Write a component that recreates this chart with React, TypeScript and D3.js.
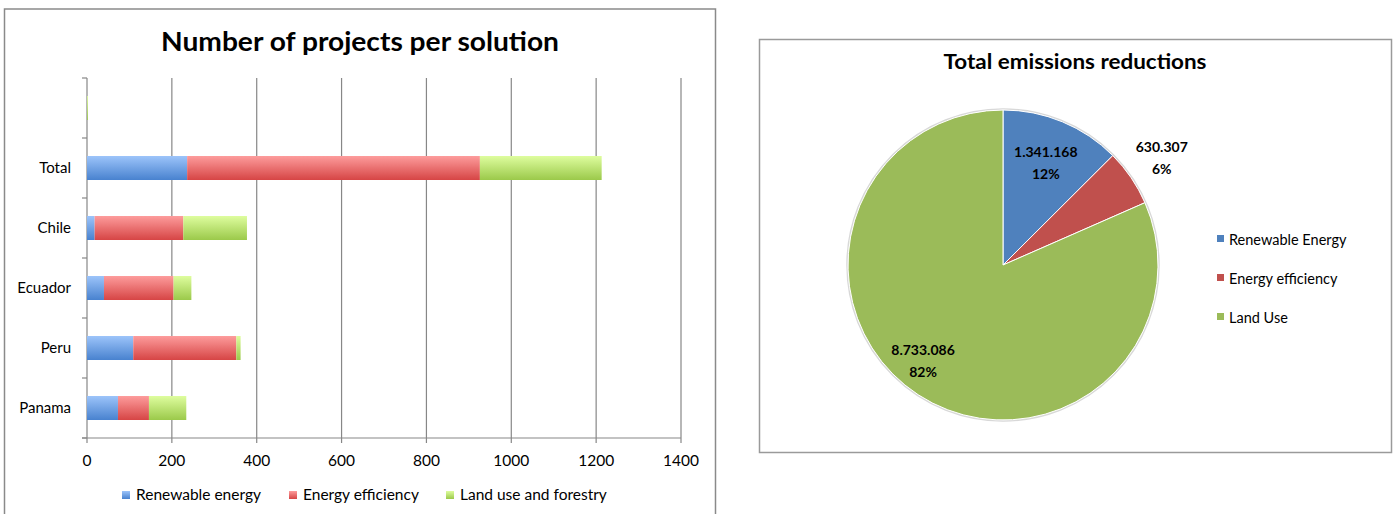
import React from "react";
import * as d3 from "d3";

// ---------- Bar chart data ----------
const barTitle = "Number of projects per solution";
const categories = ["", "Total", "Chile", "Ecuador", "Peru", "Panama"];
const seriesNames = ["Renewable energy", "Energy efficiency", "Land use and forestry"];
const renewable = [0, 236, 18, 40, 109, 73];
const efficiency = [0, 690, 209, 164, 243, 73];
const landUse = [2, 287, 150, 42, 10, 88];
const xTicks = [0, 200, 400, 600, 800, 1000, 1200, 1400];

// ---------- Pie chart data ----------
const pieTitle = "Total emissions reductions";
const pieNames = ["Renewable Energy", "Energy efficiency", "Land Use"];
const pieValues = [1341168, 630307, 8733086];
const piePercentLabels = ["12%", "6%", "82%"];

const FONT = "Lato, 'Open Sans', sans-serif";

const barGrad = [
  { id: "gBlue", top: "#9cc4fa", bottom: "#4882cf" },
  { id: "gRed", top: "#fd9c9c", bottom: "#d64545" },
  { id: "gGreen", top: "#defd9e", bottom: "#9bc94a" },
];
const pieColors = ["#4f81bd", "#c0504d", "#9bbb59"];

const euro = d3.formatLocale({ decimal: ",", thousands: ".", grouping: [3], currency: ["", ""] });
const fmt = euro.format(",d");

export default function App() {
  // Bar chart scales
  const x = d3.scaleLinear().domain([0, 1400]).range([87, 681]);
  const y = d3.scaleBand<string>().domain(categories).range([78, 438]).paddingInner(0.6).paddingOuter(0.3);
  const rows = categories.map((c, i) => ({ cat: c, vals: [renewable[i], efficiency[i], landUse[i]] }));
  const stackRows = rows.map((r) => {
    let acc = 0;
    return r.vals.map((v) => {
      const s = { x0: acc, x1: acc + v };
      acc += v;
      return s;
    });
  });
  const step = y.step();
  const bandEdges = d3.range(categories.length + 1).map((i) => 78 + i * step);

  // Pie
  const cx = 1003, cy = 265, R = 155;
  const pie = d3.pie<number>().sort(null).value((d) => d)(pieValues);
  const arc = d3.arc<d3.PieArcDatum<number>>().innerRadius(0).outerRadius(R);
  const labelPlace = [
    { r: 0.72, da: 0 },
    { r: 1.24, da: 0 },
    { r: 0.8, da: 7 },
  ];

  const legendX = [122, 289, 446];
  const pieLegendY = [240, 279, 318];

  return (
    <svg width={1397} height={514} style={{ position: "absolute", left: 0, top: 0, background: "#fff" }} fontFamily={FONT}>
      <defs>
        {barGrad.map((g) => (
          <linearGradient key={g.id} id={g.id} x1="0" y1="0" x2="0" y2="1">
            <stop offset="0" stopColor={g.top} />
            <stop offset="1" stopColor={g.bottom} />
          </linearGradient>
        ))}
      </defs>

      {/* ===== Left chart ===== */}
      <rect x={4.5} y={9} width={711} height={520} fill="#fff" stroke="#8a8a8a" strokeWidth={1.5} />
      <text x={360} y={51} textAnchor="middle" fontSize={26} fontWeight={700} fill="#000" textLength={398} lengthAdjust="spacingAndGlyphs">
        {barTitle}
      </text>

      {/* gridlines */}
      {xTicks.map((t) => (
        <line key={"g" + t} x1={x(t)} x2={x(t)} y1={78} y2={443} stroke="#878787" strokeWidth={1.2} />
      ))}
      {/* left axis ticks */}
      {bandEdges.map((b, i) => (
        <line key={"yt" + i} x1={82} x2={87} y1={b} y2={b} stroke="#878787" strokeWidth={1.2} />
      ))}
      <line x1={82} x2={681} y1={438} y2={438} stroke="#878787" strokeWidth={1.2} />

      {/* bars */}
      {rows.map((r, i) =>
        stackRows[i].map((s, k) =>
          s.x1 > s.x0 ? (
            <rect
              key={r.cat + k}
              x={x(s.x0)}
              y={y(r.cat)!}
              width={x(s.x1) - x(s.x0)}
              height={y.bandwidth()}
              fill={`url(#${barGrad[k].id})`}
            />
          ) : null
        )
      )}

      {/* category labels */}
      {categories.map((c) => (
        <text key={"c" + c} x={71} y={y(c)! + y.bandwidth() / 2 + 5} textAnchor="end" fontSize={15} fill="#000">
          {c}
        </text>
      ))}
      {/* x tick labels */}
      {xTicks.map((t) => (
        <text key={"xl" + t} x={x(t)} y={466} textAnchor="middle" fontSize={15.5} fill="#000">
          {t}
        </text>
      ))}

      {/* legend */}
      {seriesNames.map((n, k) => (
        <g key={n}>
          <rect x={legendX[k]} y={491} width={8} height={8} fill={`url(#${barGrad[k].id})`} />
          <text x={legendX[k] + 14} y={500} fontSize={15.5} fill="#000">
            {n}
          </text>
        </g>
      ))}

      {/* ===== Right chart ===== */}
      <rect x={759.5} y={39.5} width={632} height={413} fill="#fff" stroke="#9a9a9a" strokeWidth={1.5} />
      <text x={1075} y={69} textAnchor="middle" fontSize={20} fontWeight={700} fill="#000" textLength={263} lengthAdjust="spacingAndGlyphs">
        {pieTitle}
      </text>

      <g transform={`translate(${cx},${cy})`}>
        <circle r={R + 1} fill="none" stroke="#d8d8d8" strokeWidth={1.5} />
        {pie.map((p, i) => (
          <path key={"s" + i} d={arc(p) || ""} fill={pieColors[i]} stroke="#fff" strokeWidth={1} />
        ))}
        {pie.map((p, i) => {
          const a = (p.startAngle + p.endAngle) / 2 + (labelPlace[i].da * Math.PI) / 180;
          const rr = R * labelPlace[i].r;
          const lx = rr * Math.sin(a);
          const ly = -rr * Math.cos(a);
          return (
            <text key={"l" + i} textAnchor="middle" fontSize={14} fontWeight={700} fill="#000">
              <tspan x={lx} y={ly - 5}>{fmt(pieValues[i])}</tspan>
              <tspan x={lx} y={ly + 17}>{piePercentLabels[i]}</tspan>
            </text>
          );
        })}
      </g>

      {/* pie legend */}
      {pieNames.map((n, i) => (
        <g key={n}>
          <rect x={1217} y={pieLegendY[i] - 5} width={7} height={7} fill={pieColors[i]} />
          <text x={1229} y={pieLegendY[i] + 5} fontSize={14.5} fill="#000">
            {n}
          </text>
        </g>
      ))}
    </svg>
  );
}
